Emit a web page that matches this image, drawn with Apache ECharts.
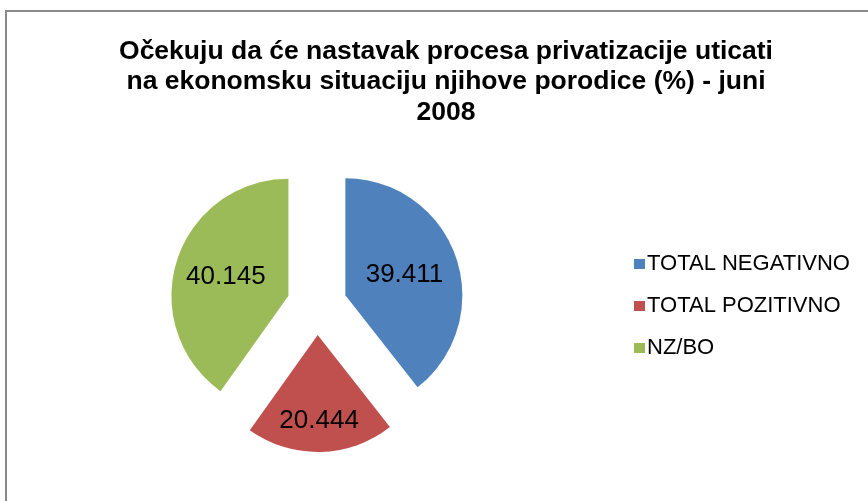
<!DOCTYPE html>
<html>
<head>
<meta charset="utf-8">
<script src="https://cdn.jsdelivr.net/npm/echarts@6/dist/echarts.min.js"></script>
<style>
html,body{margin:0;padding:0;background:#fff;}
#chart{width:868px;height:501px;}
</style>
</head>
<body>
<div id="chart"></div>
<script>
const categories = ['TOTAL NEGATIVNO', 'TOTAL POZITIVNO', 'NZ/BO'];
const values = [39.411, 20.444, 40.145];
const colors = ['#4F81BD', '#C0504D', '#9BBB59'];
const titleText = 'Očekuju da će nastavak procesa privatizacije uticati\nna ekonomsku situaciju njihove porodice (%) - juni\n2008';

// label nudges: horizontal padding [top, right, bottom, left]; red label is pushed outward by an empty leading line
const labelPaddings = [[0, 0, 0, 2], [0, 0, 0, 0], [2, 8, 0, 0]];
const labelLeadLine = [false, true, false];

const chart = echarts.init(document.getElementById('chart'), null, { renderer: 'canvas' });
chart.setOption({
  backgroundColor: '#fff',
  graphic: [{
    type: 'rect',
    shape: { x: 6, y: 11, width: 900, height: 600 },
    style: { fill: 'none', stroke: '#898989', lineWidth: 2 },
    silent: true
  }],
  title: {
    text: titleText,
    left: 441,
    textAlign: 'center',
    top: 31,
    textStyle: {
      fontFamily: 'Liberation Sans, Arial, sans-serif',
      fontWeight: 'bold',
      fontSize: 26.5,
      lineHeight: 30.5,
      color: '#000'
    }
  },
  legend: {
    orient: 'vertical',
    left: 634,
    top: 253,
    padding: 0,
    itemWidth: 11,
    itemHeight: 10,
    itemGap: 20,
    icon: 'rect',
    textStyle: {
      fontFamily: 'Liberation Sans, Arial, sans-serif',
      fontSize: 22,
      color: '#000',
      padding: [0, 0, 0, -3]
    },
    data: categories.map((c, i) => ({ name: c, itemStyle: { color: colors[i] } }))
  },
  series: [{
    type: 'pie',
    center: [317, 305],
    radius: 117,
    startAngle: 90,
    clockwise: true,
    animation: false,
    avoidLabelOverlap: false,
    selectedMode: 'multiple',
    selectedOffset: 30,
    emphasis: { disabled: true },
    labelLine: { show: false },
    data: categories.map((c, i) => ({
      name: c,
      value: values[i],
      selected: true,
      itemStyle: { color: colors[i] },
      label: {
        show: true,
        position: 'inside',
        padding: labelPaddings[i],
        formatter: (p) => (labelLeadLine[i] ? '\n' : '') + String(p.value),
        lineHeight: labelLeadLine[i] ? 48 : 30,
        color: '#000',
        fontFamily: 'Liberation Sans, Arial, sans-serif',
        fontSize: 26
      }
    }))
  }]
});
</script>
</body>
</html>
